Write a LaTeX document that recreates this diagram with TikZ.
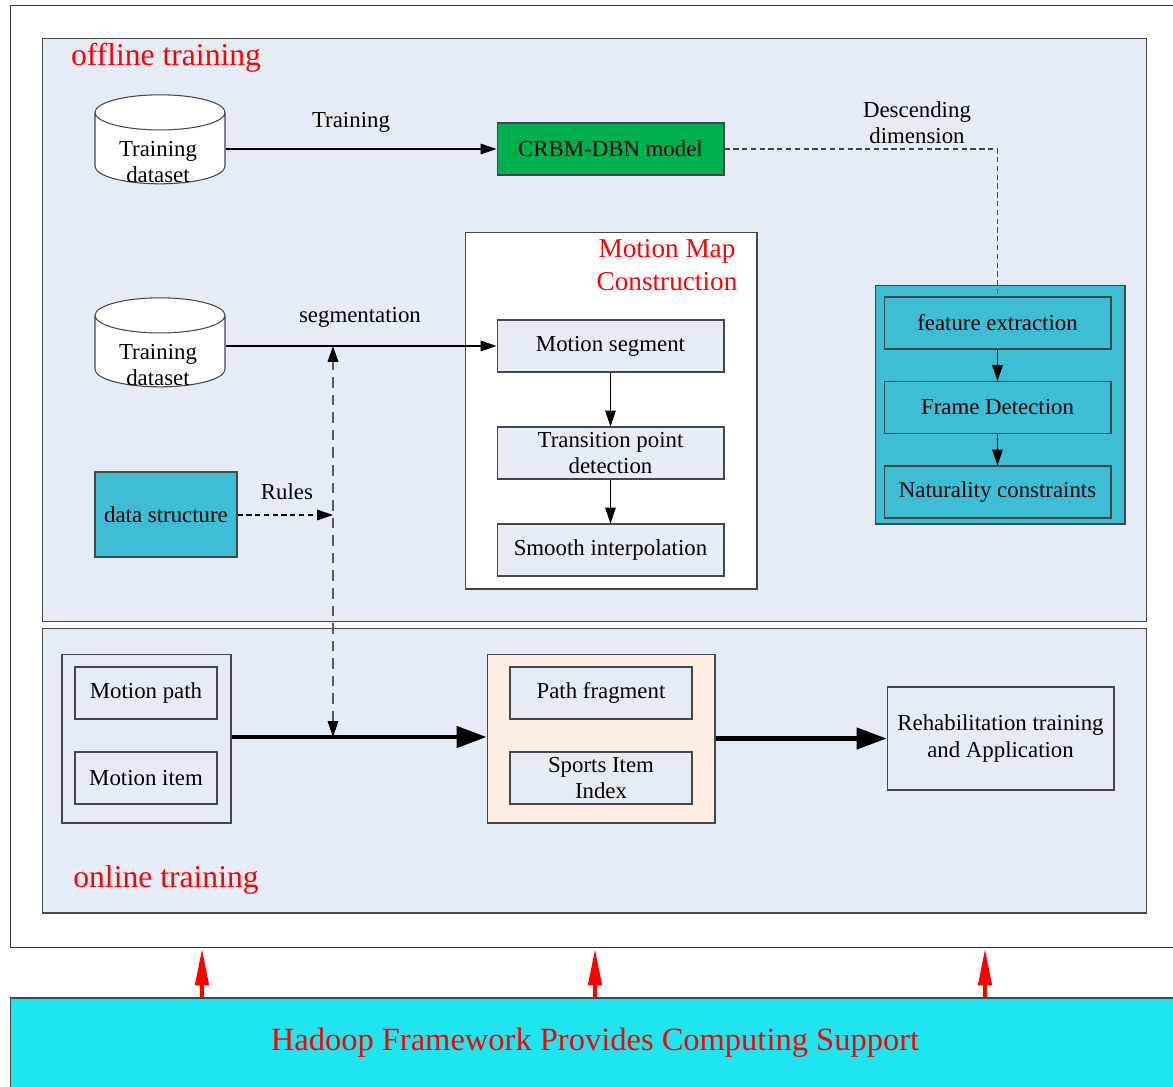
\documentclass[tikz,border=0pt]{standalone}
\usepackage{fontspec}
\setmainfont{Liberation Serif}
\usepackage{tikz}
\usetikzlibrary{shapes.geometric, arrows.meta, positioning}

\definecolor{panelblue}{RGB}{230,236,246}
\definecolor{boxcyan}{RGB}{62,190,212}
\definecolor{modelgreen}{RGB}{0,176,80}
\definecolor{peach}{RGB}{253,238,228}
\definecolor{hadoopcyan}{RGB}{30,230,240}
\definecolor{edgegray}{RGB}{70,70,70}

\begin{document}
\begin{tikzpicture}[
        x=0.02cm, y=-0.02cm,
        font=\fontsize{13}{15.3}\selectfont,
        panel/.style={
            rectangle, draw=edgegray, fill=panelblue, line width=0.6pt,
            minimum width=22.1cm
        },
        box/.style={
            rectangle, draw=edgegray, fill=panelblue, line width=0.6pt,
            minimum width=4.54cm, minimum height=1.04cm,
            align=center, inner sep=1pt
        },
        groupbox/.style={rectangle, draw=edgegray, line width=0.6pt},
        dbcyl/.style={
            cylinder, shape border rotate=90, aspect=3,
            draw=edgegray, fill=white, line width=0.6pt,
            minimum width=2.6cm, minimum height=1.78cm
        },
        redtitle/.style={text=red, font=\fontsize{18}{21}\selectfont},
        arr/.style={line width=0.6pt, -{Triangle[length=9pt,width=6pt]}},
        bigarr/.style={line width=2.3pt, -{Triangle[length=17pt,width=12pt]}},
        dimline/.style={line width=0.6pt, draw=edgegray, dash pattern=on 3pt off 2pt},
        rulearr/.style={line width=0.6pt, dash pattern=on 3pt off 2pt,
            -{Triangle[length=9pt,width=6pt]}},
        linkarr/.style={line width=0.8pt, draw=black!65, dash pattern=on 6pt off 4pt,
            {Triangle[length=9pt,width=6pt,color=black]}-{Triangle[length=9pt,width=6pt,color=black]}},
        hadooparrow/.style={draw=red, line width=2.3pt,
            -{Triangle[length=21pt,width=7.5pt]}}
    ]
        \clip (0,0) rectangle (1173,1086);

        % frame and panels
        \node[rectangle, draw=black!80, fill=white, line width=0.6pt,
            minimum width=23.5cm, minimum height=18.86cm] (frame) at (597.5,476.5) {};
        \node[panel, minimum height=11.68cm] (offline) at (594.5,330) {};
        \node[panel, minimum height=5.7cm] (online) at (594.5,770.5) {};
        \node[rectangle, draw=edgegray, fill=hadoopcyan, line width=0.6pt,
            minimum width=23.4cm, minimum height=1.8cm,
            text=red, font=\fontsize{18.5}{22}\selectfont] (hadoop) at (595,1043)
            {Hadoop Framework Provides Computing Support};

        \node[redtitle] (offtitle) at (166,58) {offline training};
        \node[redtitle] (ontitle) at (166,880) {online training};

        % offline training
        \node[dbcyl] (ds1) at (160,152) {};
        \node[align=center] (ds1txt) at (158,162) {Training\\dataset};
        \node[dbcyl] (ds2) at (160,355) {};
        \node[align=center] (ds2txt) at (158,365) {Training\\dataset};

        \node[box, fill=modelgreen] (crbm) at (610.5,149) {CRBM-DBN model};

        \node[groupbox, fill=white, minimum width=5.84cm, minimum height=7.14cm] (mmc) at (611,410.5) {};
        \node[text=red, align=center, font=\fontsize{15.5}{18.7}\selectfont] (mmctitle) at (667,265)
            {Motion Map\\Construction};
        \node[box] (ms) at (610.5,346) {Motion segment};
        \node[box] (tp) at (610.5,453) {Transition point\\detection};
        \node[box] (si) at (610.5,550) {Smooth interpolation};

        \node[groupbox, fill=boxcyan, minimum width=5cm, minimum height=4.78cm] (feat) at (1000,404.5) {};
        \node[box, fill=boxcyan] (fe) at (997.5,323) {feature extraction};
        \node[box, fill=boxcyan] (fd) at (997.5,407.5) {Frame Detection};
        \node[box, fill=boxcyan] (nc) at (997.5,492) {Naturality constraints};

        \node[box, fill=boxcyan, minimum width=2.84cm, minimum height=1.7cm] (dstruct) at (166,514.5) {data structure};

        \coordinate (segjoin) at (333,346);
        \coordinate (rulejoin) at (333,515);
        \coordinate (onjoin) at (333,737);

        \draw[arr] (ds1.east |- crbm.west) -- (crbm.west);
        \draw[arr] (ds2.east |- ms.west) -- (ms.west);
        \draw[arr] (ms) -- (tp);
        \draw[arr] (tp) -- (si);
        \draw[arr] (fe) -- (fd);
        \draw[arr] (fd) -- (nc);
        \draw[dimline] (crbm.east) -| (fe.north);
        \draw[rulearr] (dstruct.east |- rulejoin) -- (rulejoin);

        \node (trainlbl) at (351,122) {Training};
        \node (seglbl) at (360,317) {segmentation};
        \node (rulelbl) at (287,492) {Rules};
        \node[align=center, font=\fontsize{13}{14.7}\selectfont] (dimlbl) at (917,123) {Descending\\dimension};

        % online training
        \node[groupbox, minimum width=3.38cm, minimum height=3.38cm] (motion) at (146.5,738.5) {};
        \node[box, minimum width=2.84cm] (mp) at (146,693) {Motion path};
        \node[box, minimum width=2.84cm] (mi) at (146,778) {Motion item};

        \node[groupbox, fill=peach, minimum width=4.56cm, minimum height=3.38cm] (frag) at (601,738.5) {};
        \node[box, minimum width=3.64cm] (pf) at (601,693) {Path fragment};
        \node[box, minimum width=3.64cm] (sii) at (601,778) {Sports Item\\Index};

        \node[box, minimum height=2.06cm] (rehab) at (1000.5,738.5) {Rehabilitation training\\and Application};

        \draw[bigarr] (motion.east |- onjoin) -- (frag.west |- onjoin);
        \draw[bigarr] (frag.east) -- (rehab.west);
        \draw[linkarr] (onjoin) -- (segjoin);

        % computing support
        \foreach \xx in {202,595,985}
            \draw[hadooparrow] (hadoop.north -| \xx,0) -- (frame.south -| \xx,0);
    \end{tikzpicture}
\end{document}
